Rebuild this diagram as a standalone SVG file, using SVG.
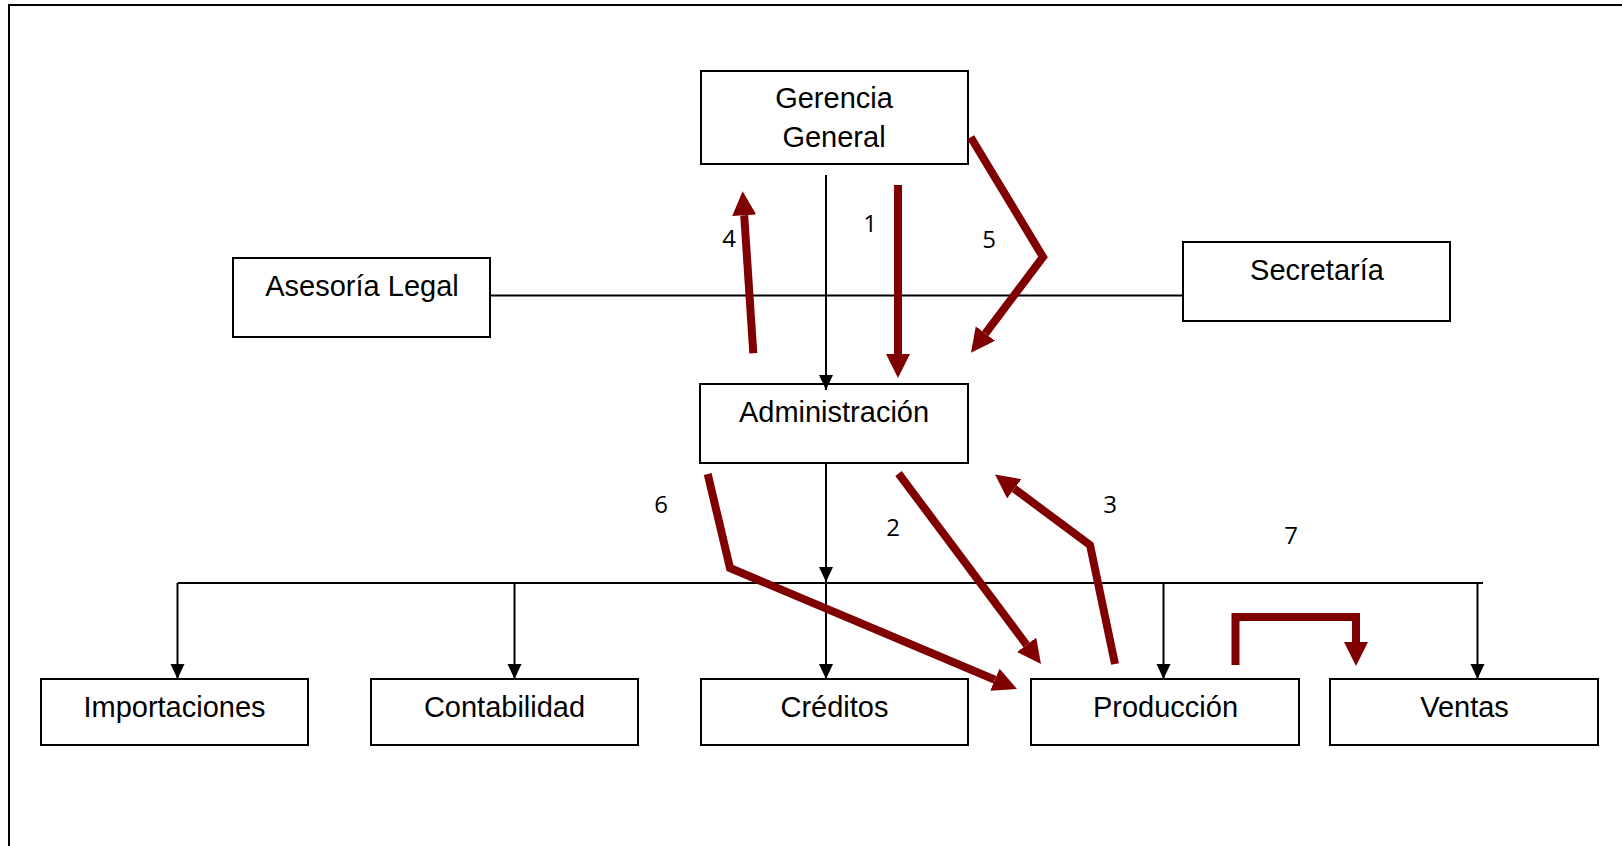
<svg xmlns="http://www.w3.org/2000/svg" width="1622" height="846" viewBox="0 0 1622 846">
  <style>
    .box { fill: #ffffff; stroke: #000000; stroke-width: 2; }
    .lbl { font-family: "Liberation Sans", Arial, sans-serif; font-size: 29px; fill: #000000; text-anchor: middle; }
    .num { font-family: "Open Sans", "Liberation Sans", sans-serif; font-size: 24px; fill: #000000; text-anchor: middle; }
    .wire { fill: none; stroke: #000000; stroke-width: 2; }
    .flow { fill: none; stroke: #800000; stroke-width: 8; stroke-linejoin: miter; stroke-miterlimit: 10; }
  </style>
  <defs>
    <marker id="tip" markerUnits="userSpaceOnUse" markerWidth="16" markerHeight="15" refX="15" refY="7" orient="auto">
      <path d="M0,0 L15,7 L0,14 z" fill="#000000"/>
    </marker>
    <marker id="redTip" markerUnits="userSpaceOnUse" markerWidth="25" markerHeight="25" refX="0" refY="12" orient="auto">
      <path d="M0,0 L24,12 L0,24 z" fill="#800000"/>
    </marker>
  </defs>

  <rect x="0" y="0" width="1622" height="846" fill="#ffffff"/>
  <!-- page frame -->
  <path d="M9,846 V5 H1622" fill="none" stroke="#000000" stroke-width="2"/>

  <g id="gerencia">
    <rect class="box" x="701" y="71" width="267" height="93"/>
    <text class="lbl" x="834" y="108">Gerencia</text>
    <text class="lbl" x="834" y="147">General</text>
  </g>
  <g id="asesoria">
    <rect class="box" x="233" y="258" width="257" height="79"/>
    <text class="lbl" x="362" y="296">Asesoría Legal</text>
  </g>
  <g id="secretaria">
    <rect class="box" x="1183" y="242" width="267" height="79"/>
    <text class="lbl" x="1317" y="280">Secretaría</text>
  </g>
  <g id="administracion">
    <rect class="box" x="700" y="384" width="268" height="79"/>
    <text class="lbl" x="834" y="422">Administración</text>
  </g>
  <g id="importaciones">
    <rect class="box" x="41" y="679" width="267" height="66"/>
    <text class="lbl" x="174.5" y="717">Importaciones</text>
  </g>
  <g id="contabilidad">
    <rect class="box" x="371" y="679" width="267" height="66"/>
    <text class="lbl" x="504.5" y="717">Contabilidad</text>
  </g>
  <g id="creditos">
    <rect class="box" x="701" y="679" width="267" height="66"/>
    <text class="lbl" x="834.5" y="717">Créditos</text>
  </g>
  <g id="produccion">
    <rect class="box" x="1031" y="679" width="268" height="66"/>
    <text class="lbl" x="1165.5" y="717">Producción</text>
  </g>
  <g id="ventas">
    <rect class="box" x="1330" y="679" width="268" height="66"/>
    <text class="lbl" x="1464.5" y="717">Ventas</text>
  </g>

  <!-- organisational links -->
  <g id="connectors">
    <line class="wire" x1="490" y1="295.5" x2="1184" y2="295.5"/>
    <line class="wire" x1="826" y1="175" x2="826" y2="390" marker-end="url(#tip)"/>
    <line class="wire" x1="826" y1="463" x2="826" y2="582" marker-end="url(#tip)"/>
    <line class="wire" x1="177.5" y1="583" x2="1483" y2="583"/>
    <line class="wire" x1="177.5" y1="583" x2="177.5" y2="679" marker-end="url(#tip)"/>
    <line class="wire" x1="514.5" y1="583" x2="514.5" y2="679" marker-end="url(#tip)"/>
    <line class="wire" x1="826" y1="583" x2="826" y2="679" marker-end="url(#tip)"/>
    <line class="wire" x1="1163.5" y1="583" x2="1163.5" y2="679" marker-end="url(#tip)"/>
    <line class="wire" x1="1477.5" y1="583" x2="1477.5" y2="679" marker-end="url(#tip)"/>

    <!-- numbered information flows -->
    <path class="flow" d="M898,185 L898,354" marker-end="url(#redTip)"/>
    <path class="flow" d="M898.5,473.5 L1026.6,644.8" marker-end="url(#redTip)"/>
    <path class="flow" d="M1115,664 L1090,545 L1014.3,488.8" marker-end="url(#redTip)"/>
    <path class="flow" d="M753.3,353.3 L744.2,215.2" marker-end="url(#redTip)"/>
    <path class="flow" d="M970.7,137.3 L1043,257 L985.4,333.5" marker-end="url(#redTip)"/>
    <path class="flow" d="M707.7,474 L730,568 L994.9,679.7" marker-end="url(#redTip)"/>
    <path class="flow" d="M1235.5,665 L1235.5,617 L1356,617 L1356,642" marker-end="url(#redTip)"/>

    <text class="num" x="870" y="232">1</text>
    <text class="num" x="893" y="536">2</text>
    <text class="num" x="1110" y="513">3</text>
    <text class="num" x="729" y="247">4</text>
    <text class="num" x="989" y="248">5</text>
    <text class="num" x="661" y="513">6</text>
    <text class="num" x="1291" y="544">7</text>
  </g>
</svg>
